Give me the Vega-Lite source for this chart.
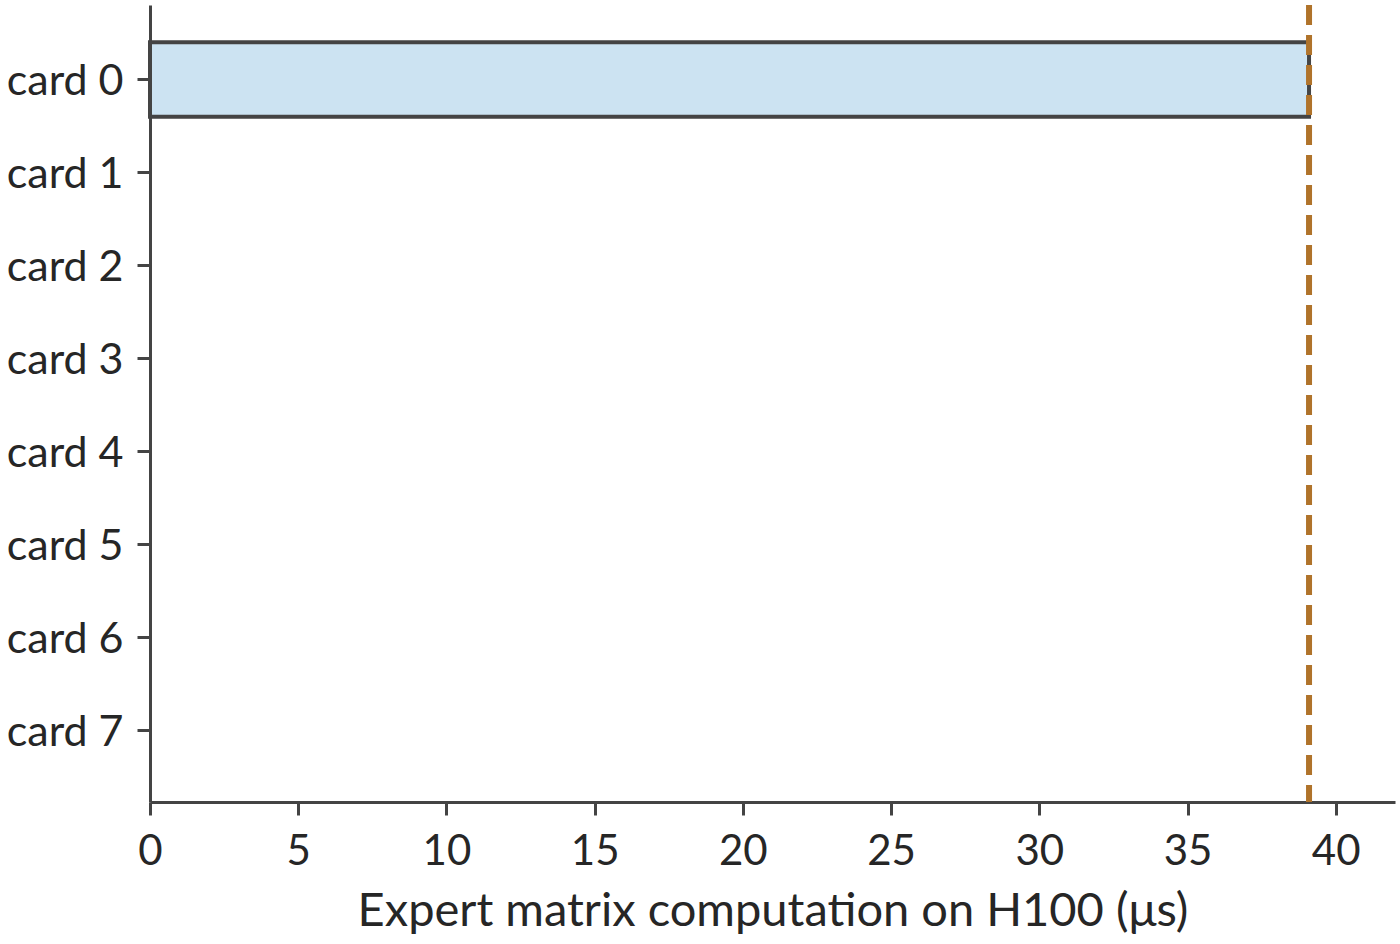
{
  "$schema": "https://vega.github.io/schema/vega-lite/v6.json",
  "autosize": "none",
  "width": 1245,
  "height": 797,
  "padding": {"left": 150, "top": 5, "right": 5, "bottom": 142},
  "background": "white",
  "config": {
    "view": {"stroke": null},
    "font": "Lato",
    "axis": {
      "domainColor": "#444444",
      "domainWidth": 3,
      "tickColor": "#444444",
      "tickWidth": 3,
      "tickSize": 13,
      "grid": false,
      "labelColor": "#262626",
      "labelFont": "Lato",
      "labelFontSize": 42,
      "titleColor": "#262626",
      "titleFont": "Lato",
      "titleFontSize": 47,
      "titleFontWeight": "normal"
    }
  },
  "data": {
    "values": [
      {"card": "card 0", "time": 39.1},
      {"card": "card 1", "time": null},
      {"card": "card 2", "time": null},
      {"card": "card 3", "time": null},
      {"card": "card 4", "time": null},
      {"card": "card 5", "time": null},
      {"card": "card 6", "time": null},
      {"card": "card 7", "time": null}
    ]
  },
  "layer": [
    {
      "mark": {"type": "bar", "fill": "#cce3f2", "stroke": "#444444", "strokeWidth": 4},
      "encoding": {
        "y": {
          "field": "card",
          "type": "nominal",
          "title": null,
          "scale": {
            "domain": ["card 0", "card 1", "card 2", "card 3", "card 4", "card 5", "card 6", "card 7"],
            "paddingInner": 0.2,
            "paddingOuter": 0.385,
            "align": 0.52
          },
          "axis": {"labelPadding": 14, "labelFontSize": 43, "labelOffset": 3}
        },
        "x": {
          "field": "time",
          "type": "quantitative",
          "title": "Expert matrix computation on H100 (μs)",
          "scale": {"domain": [0, 42], "nice": false},
          "axis": {"values": [0, 5, 10, 15, 20, 25, 30, 35, 40], "labelPadding": 16, "titlePadding": 16, "labelFlush": false}
        }
      }
    },
    {
      "transform": [{"filter": "datum.time != null"}],
      "mark": {"type": "rule", "stroke": "#b0732a", "strokeWidth": 6, "strokeDash": [20, 10]},
      "encoding": {
        "x": {"field": "time", "type": "quantitative", "aggregate": "max"}
      }
    }
  ]
}
